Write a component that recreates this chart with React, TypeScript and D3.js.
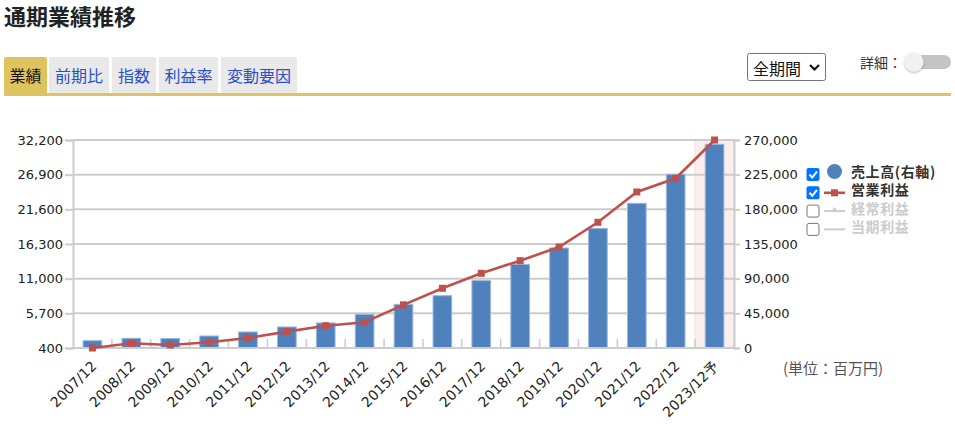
import { useEffect, useRef } from 'react';
import * as d3 from 'd3';

// 通期業績推移 (sales on right axis as bars, operating profit on left axis as line)
const YEARS = [
  '2007/12', '2008/12', '2009/12', '2010/12', '2011/12', '2012/12',
  '2013/12', '2014/12', '2015/12', '2016/12', '2017/12', '2018/12',
  '2019/12', '2020/12', '2021/12', '2022/12', '2023/12予',
];
const SALES = [
  9500, 12600, 12300, 15600, 20800, 27300, 32500, 43700, 56700,
  67900, 87400, 108600, 129800, 155300, 187800, 225500, 264400,
];
const OP_PROFIT = [
  400, 1120, 860, 1270, 1930, 2900, 3810, 4330, 7000,
  9530, 11820, 13750, 15840, 19620, 24250, 26350, 32200,
];
const LEFT_TICKS = [400, 5700, 11000, 16300, 21600, 26900, 32200];
const RIGHT_TICKS = [0, 45000, 90000, 135000, 180000, 225000, 270000];
const TABS = ['業績', '前期比', '指数', '利益率', '変動要因'];
const LEGEND = [
  { label: '売上高(右軸)', checked: true, kind: 'bar' },
  { label: '営業利益', checked: true, kind: 'line' },
  { label: '経常利益', checked: false, kind: 'tri' },
  { label: '当期利益', checked: false, kind: 'dot' },
];

const W = 955;
const H = 428;
const JP = '"Noto Sans CJK JP", "Noto Sans", sans-serif';
const NUM = '"DejaVu Sans", Verdana, sans-serif';
const BLUE = '#4f81bd';
const RED = '#c0504d';
const GRID = '#cccccc';
const GOLD = '#dfc35f';

export default function App() {
  const svgRef = useRef<SVGSVGElement>(null);

  useEffect(() => {
    if (!svgRef.current) return;
    const svg = d3.select(svgRef.current);
    svg.selectAll('*').remove();

    // Header
    svg.append('text')
      .attr('x', 4).attr('y', 25)
      .attr('font-family', JP).attr('font-size', 22).attr('font-weight', 'bold')
      .attr('fill', '#222')
      .text('通期業績推移');

    const tabX = [4, 49, 112, 159, 221];
    const tabW = [43, 60, 44, 59, 76];
    TABS.forEach((t, i) => {
      const g = svg.append('g');
      g.append('rect')
        .attr('x', tabX[i]).attr('y', 57).attr('width', tabW[i]).attr('height', 37)
        .attr('rx', 2)
        .attr('fill', i === 0 ? GOLD : '#e9e9e9');
      g.append('text')
        .attr('x', tabX[i] + tabW[i] / 2).attr('y', 75)
        .attr('text-anchor', 'middle').attr('dominant-baseline', 'central')
        .attr('font-family', JP).attr('font-size', 16)
        .attr('fill', i === 0 ? '#111' : '#2a4fc9')
        .text(t);
    });
    svg.append('rect')
      .attr('x', 4).attr('y', 93).attr('width', 947).attr('height', 3)
      .attr('fill', GOLD);

    // Period select
    svg.append('rect')
      .attr('x', 747.5).attr('y', 53.5).attr('width', 78).attr('height', 27)
      .attr('rx', 2).attr('fill', '#fff').attr('stroke', '#767676');
    svg.append('text')
      .attr('x', 753).attr('y', 68)
      .attr('dominant-baseline', 'central')
      .attr('font-family', JP).attr('font-size', 16).attr('fill', '#111')
      .text('全期間');
    svg.append('path')
      .attr('d', 'M810,65 L814.5,69.5 L819,65')
      .attr('fill', 'none').attr('stroke', '#111').attr('stroke-width', 2.2);

    // Detail toggle
    svg.append('text')
      .attr('x', 860).attr('y', 62)
      .attr('dominant-baseline', 'central')
      .attr('font-family', JP).attr('font-size', 14).attr('fill', '#333')
      .text('詳細：');
    svg.append('rect')
      .attr('x', 910).attr('y', 55).attr('width', 41).attr('height', 14)
      .attr('rx', 7).attr('fill', '#c4c4c4');
    const defs = svg.append('defs');
    const f = defs.append('filter').attr('id', 'knob').attr('x', '-50%').attr('y', '-50%')
      .attr('width', '200%').attr('height', '200%');
    f.append('feDropShadow').attr('dx', 0).attr('dy', 1).attr('stdDeviation', 1.2)
      .attr('flood-color', '#000').attr('flood-opacity', 0.35);
    svg.append('circle')
      .attr('cx', 914).attr('cy', 62).attr('r', 9.5)
      .attr('fill', '#f1f1f1').attr('filter', 'url(#knob)');

    // Chart
    const left = 73;
    const right = 734;
    const top = 140;
    const bottom = 348;

    const x = d3.scaleBand<string>()
      .domain(YEARS)
      .range([left, right])
      .paddingInner(0.52)
      .paddingOuter(0.26);
    const step = x.step();
    const yL = d3.scaleLinear().domain([400, 32200]).range([bottom, top]);
    const yR = d3.scaleLinear().domain([0, 270000]).range([bottom, top]);

    const g = svg.append('g');

    // forecast highlight
    const lastStart = (x(YEARS[YEARS.length - 1]) || 0) - step * 0.26;
    g.append('rect')
      .attr('x', lastStart).attr('y', top)
      .attr('width', right - lastStart).attr('height', bottom - top)
      .attr('fill', '#fdeeee').attr('stroke', '#f8dcdc').attr('stroke-width', 1);

    // grid lines
    g.selectAll('line.grid')
      .data(LEFT_TICKS)
      .join('line')
      .attr('class', 'grid')
      .attr('x1', left).attr('x2', right)
      .attr('y1', (d) => yL(d)).attr('y2', (d) => yL(d))
      .attr('stroke', GRID).attr('stroke-width', 2);

    // bars
    g.selectAll('rect.bar')
      .data(SALES)
      .join('rect')
      .attr('class', 'bar')
      .attr('x', (_, i) => x(YEARS[i]) || 0)
      .attr('y', (d) => yR(d))
      .attr('width', x.bandwidth())
      .attr('height', (d) => bottom - yR(d))
      .attr('fill', BLUE)
      .attr('stroke', '#9bb7dc')
      .attr('stroke-width', 1);

    // left axis
    const axL = g.append('g')
      .attr('transform', `translate(${left},0)`)
      .call(d3.axisLeft(yL).tickValues(LEFT_TICKS).tickSize(8).tickPadding(2)
        .tickFormat((d) => d3.format(',')(d as number)));
    axL.selectAll('text')
      .attr('font-family', NUM).attr('font-size', 13).attr('fill', '#222');

    // right axis
    const axR = g.append('g')
      .attr('transform', `translate(${right},0)`)
      .call(d3.axisRight(yR).tickValues(RIGHT_TICKS).tickSize(6).tickPadding(4)
        .tickFormat((d) => d3.format(',')(d as number)));
    axR.selectAll('text')
      .attr('font-family', NUM).attr('font-size', 13).attr('fill', '#222');

    g.selectAll('.domain').attr('stroke', GRID).attr('stroke-width', 2);
    g.selectAll('.tick line').attr('stroke', GRID).attr('stroke-width', 2);

    // bottom axis line + inner category ticks
    g.append('line')
      .attr('x1', left).attr('x2', right)
      .attr('y1', bottom).attr('y2', bottom)
      .attr('stroke', GRID).attr('stroke-width', 2);
    g.selectAll('line.cat')
      .data(YEARS.slice(1))
      .join('line')
      .attr('class', 'cat')
      .attr('x1', (d) => (x(d) || 0) - step * 0.26)
      .attr('x2', (d) => (x(d) || 0) - step * 0.26)
      .attr('y1', bottom - 9).attr('y2', bottom)
      .attr('stroke', GRID).attr('stroke-width', 1.5);

    // x labels
    g.selectAll('text.xl')
      .data(YEARS)
      .join('text')
      .attr('class', 'xl')
      .attr('transform', (d) =>
        `translate(${(x(d) || 0) + x.bandwidth() / 2 + 5},${bottom + 19}) rotate(-45)`)
      .attr('text-anchor', 'end')
      .attr('font-family', `${NUM}, ${JP}`)
      .attr('font-size', 14)
      .attr('fill', '#222')
      .text((d) => d);

    // operating profit line
    const cx = (i: number) => (x(YEARS[i]) || 0) + x.bandwidth() / 2;
    const line = d3.line<number>()
      .x((_, i) => cx(i))
      .y((d) => yL(d));
    g.append('path')
      .datum(OP_PROFIT)
      .attr('d', line)
      .attr('fill', 'none')
      .attr('stroke', RED)
      .attr('stroke-width', 2.6);
    g.selectAll('rect.mk')
      .data(OP_PROFIT)
      .join('rect')
      .attr('class', 'mk')
      .attr('x', (_, i) => cx(i) - 3.5)
      .attr('y', (d) => yL(d) - 3.5)
      .attr('width', 7).attr('height', 7)
      .attr('fill', RED);

    // legend
    LEGEND.forEach((item, i) => {
      const cy = 174.5 + i * 18.3;
      const lg = svg.append('g');
      if (item.checked) {
        lg.append('rect')
          .attr('x', 806.5).attr('y', cy - 6.5).attr('width', 13).attr('height', 13)
          .attr('rx', 2).attr('fill', '#0075ff');
        lg.append('path')
          .attr('d', `M809.5,${cy} L812.3,${cy + 3} L817,${cy - 3}`)
          .attr('fill', 'none').attr('stroke', '#fff').attr('stroke-width', 2);
      } else {
        lg.append('rect')
          .attr('x', 807).attr('y', cy - 6).attr('width', 12).attr('height', 12)
          .attr('rx', 2).attr('fill', '#fff').attr('stroke', '#767676');
      }
      const active = item.checked;
      const mc = item.kind === 'bar' ? BLUE : item.kind === 'line' ? RED : '#cccccc';
      if (item.kind === 'bar') {
        lg.append('circle').attr('cx', 834.5).attr('cy', cy - 3).attr('r', 7.5).attr('fill', mc);
      } else {
        lg.append('line')
          .attr('x1', 824).attr('x2', 845).attr('y1', cy).attr('y2', cy)
          .attr('stroke', mc).attr('stroke-width', item.kind === 'line' ? 2.6 : 2);
        if (item.kind === 'line') {
          lg.append('rect').attr('x', 831).attr('y', cy - 3.5).attr('width', 7).attr('height', 7).attr('fill', mc);
        } else if (item.kind === 'tri') {
          lg.append('path').attr('d', `M834.5,${cy - 4} L838.5,${cy + 1} L830.5,${cy + 1} Z`).attr('fill', mc);
        }
      }
      lg.append('text')
        .attr('x', 851).attr('y', cy - 3.5)
        .attr('dominant-baseline', 'central')
        .attr('font-family', JP).attr('font-size', 14).attr('font-weight', 'bold')
        .attr('letter-spacing', 0.6)
        .attr('fill', active ? '#333' : '#cccccc')
        .text(item.label);
    });

    // unit
    svg.append('text')
      .attr('x', 783).attr('y', 367)
      .attr('dominant-baseline', 'central')
      .attr('font-family', JP).attr('font-size', 15).attr('fill', '#555')
      .text('(単位：百万円)');
  }, []);

  return (
    <svg
      ref={svgRef}
      width={W}
      height={H}
      style={{ position: 'absolute', left: 0, top: 0, background: '#fff' }}
    />
  );
}
